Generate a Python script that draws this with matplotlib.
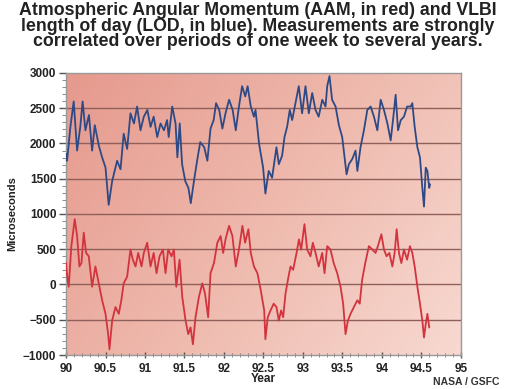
import numpy as np
import matplotlib.pyplot as plt
from matplotlib.colors import LinearSegmentedColormap
from matplotlib.ticker import MultipleLocator

# LOD (blue), year vs microseconds
lod_year = [90.0, 90.013, 90.055, 90.097, 90.14, 90.18, 90.21, 90.245, 90.29, 90.33,
            90.364, 90.415, 90.457, 90.50, 90.54, 90.584, 90.647, 90.69, 90.73, 90.774,
            90.816, 90.86, 90.90, 90.943, 90.985, 91.03, 91.07, 91.11, 91.155, 91.197,
            91.24, 91.28, 91.30, 91.345, 91.387, 91.41, 91.44, 91.47, 91.51, 91.55,
            91.58, 91.62, 91.66, 91.70, 91.75, 91.79, 91.83, 91.87, 91.90, 91.94,
            91.98, 92.02, 92.065, 92.11, 92.15, 92.19, 92.23, 92.27, 92.30, 92.34,
            92.38, 92.40, 92.445, 92.496, 92.525, 92.567, 92.61, 92.665, 92.695, 92.737,
            92.767, 92.80, 92.834, 92.864, 92.906, 92.948, 92.99, 93.033, 93.075, 93.118,
            93.16, 93.20, 93.245, 93.287, 93.308, 93.337, 93.37, 93.414, 93.456, 93.498,
            93.528, 93.553, 93.583, 93.625, 93.667, 93.69, 93.73, 93.773, 93.816, 93.858,
            93.90, 93.943, 93.985, 94.027, 94.07, 94.112, 94.146, 94.175, 94.205, 94.24,
            94.28, 94.32, 94.365, 94.386, 94.416, 94.45, 94.483, 94.513, 94.534, 94.556,
            94.577, 94.60, 94.61]
lod_us = [1851, 1755, 2235, 2596, 1899, 2235, 2596, 2187, 2404, 1899,
          2260, 1971, 1803, 1658, 1129, 1466, 1755, 1634, 2139, 1923,
          2428, 2284, 2524, 2187, 2380, 2476, 2235, 2380, 2091, 2284,
          2187, 2332, 2091, 2524, 2284, 1803, 2284, 1706, 1466, 1370,
          1153, 1466, 1755, 2019, 1947, 1755, 2211, 2332, 2572, 2476,
          2211, 2428, 2620, 2476, 2187, 2524, 2813, 2668, 2813, 2524,
          2380, 2476, 1995, 1658, 1290, 1610, 1514, 1947, 1706, 1827,
          2091, 2235, 2476, 2332, 2572, 2813, 2428, 2813, 2428, 2716,
          2476, 2380, 2620, 2524, 2813, 2957, 2620, 2524, 2260, 2091,
          1803, 1562, 1706, 1779, 1899, 1610, 1947, 2187, 2476, 2524,
          2380, 2187, 2620, 2476, 2284, 2043, 2380, 2692, 2187, 2332,
          2380, 2524, 2524, 2572, 2235, 1947, 1803, 1370, 1105, 1658,
          1610, 1370, 1418]

# AAM (red)
aam_year = [90.0, 90.01, 90.034, 90.067, 90.11, 90.14, 90.169, 90.195, 90.224, 90.254,
            90.288, 90.33, 90.372, 90.415, 90.457, 90.50, 90.533, 90.55, 90.584, 90.626,
            90.668, 90.70, 90.73, 90.774, 90.816, 90.846, 90.88, 90.914, 90.956, 90.985,
            91.028, 91.07, 91.11, 91.146, 91.184, 91.227, 91.26, 91.294, 91.336, 91.366,
            91.396, 91.438, 91.472, 91.514, 91.548, 91.577, 91.607, 91.64, 91.683, 91.726,
            91.76, 91.80, 91.83, 91.874, 91.916, 91.958, 91.99, 92.02, 92.065, 92.107,
            92.15, 92.19, 92.234, 92.268, 92.31, 92.34, 92.38, 92.424, 92.466, 92.51,
            92.525, 92.555, 92.59, 92.63, 92.665, 92.695, 92.724, 92.75, 92.78, 92.81,
            92.843, 92.876, 92.92, 92.95, 92.978, 93.02, 93.054, 93.096, 93.126, 93.16,
            93.20, 93.245, 93.274, 93.308, 93.35, 93.39, 93.435, 93.477, 93.51, 93.54,
            93.57, 93.604, 93.646, 93.69, 93.72, 93.75, 93.79, 93.836, 93.88, 93.92,
            93.95, 93.994, 94.027, 94.06, 94.095, 94.133, 94.162, 94.188, 94.217, 94.247,
            94.28, 94.32, 94.356, 94.386, 94.416, 94.45, 94.483, 94.513, 94.534, 94.556,
            94.577, 94.60]
aam_us = [304, 160, -32, 544, 928, 688, 256, 304, 736, 448,
          400, -32, 256, 16, -224, -416, -704, -920, -512, -320,
          -416, -224, 16, 112, 496, 352, 256, 448, 256, 448,
          592, 256, 448, 160, 400, 496, 160, 496, 400, 496,
          -32, 352, -176, -512, -704, -608, -848, -464, -176, 16,
          -128, -464, 160, 304, 592, 688, 448, 640, 832, 688,
          256, 496, 832, 592, 784, 448, 256, 160, -80, -368,
          -776, -464, -368, -272, -320, -512, -368, -464, -128, 64,
          256, 208, 448, 640, 496, 856, 496, 400, 592, 448,
          256, 448, 160, 544, 496, 304, 160, -32, -272, -704,
          -512, -416, -320, -224, -272, 64, 304, 544, 496, 448,
          544, 712, 496, 400, 448, 256, 448, 784, 448, 304,
          496, 352, 544, 448, 256, -32, -272, -512, -752, -560,
          -416, -608]

title = ("Atmospheric Angular Momentum (AAM, in red) and VLBI\n"
         "length of day (LOD, in blue). Measurements are strongly\n"
         "correlated over periods of one week to several years.")
xticks = [90, 90.5, 91, 91.5, 92, 92.5, 93, 93.5, 94, 94.5, 95]
xlabels = ['90', '90.5', '91', '91.5', '92', '92.5', '93', '93.5', '94', '94.5', '95']

plt.rcParams['font.family'] = ['Liberation Sans', 'DejaVu Sans']

fig = plt.figure(figsize=(5.16, 3.89), dpi=100)
ax = fig.add_axes([0.128, 0.0874, 0.765, 0.725])

# pinkish background, darker towards the upper left
u = np.linspace(0, 1, 200)
v = np.linspace(1, 0, 200)
U, V = np.meshgrid(u, v)
shade = np.clip(0.65 * U + 0.35 * (1 - V), 0, 1)
cmap = LinearSegmentedColormap.from_list('bg', ['#e6998d', '#efb9ad', '#f7d9d1'])
ax.imshow(shade, cmap=cmap, extent=[90, 95, -1000, 3000], aspect='auto',
          origin='upper', zorder=0, interpolation='bilinear')

for y in range(-500, 3000, 500):
    ax.axhline(y, color='#8f5f5a', lw=1.0, zorder=1)

ax.plot(lod_year, lod_us, color='#2e4a86', lw=1.3, zorder=3)
ax.plot(aam_year, aam_us, color='#d2343f', lw=1.3, zorder=3)

ax.set_xlim(90, 95)
ax.set_ylim(-1000, 3000)
ax.set_xticks(xticks)
ax.set_xticklabels(xlabels)
ax.xaxis.set_minor_locator(MultipleLocator(0.1))
ax.yaxis.set_major_locator(MultipleLocator(500))
ax.yaxis.set_minor_locator(MultipleLocator(100))
ax.tick_params(axis='both', which='major', labelsize=8.5, colors='#555555',
               labelcolor='#222222', width=1)
ax.tick_params(axis='y', which='major', length=5, direction='out', pad=2)
ax.tick_params(axis='y', which='minor', length=3, direction='out', color='#777777')
ax.tick_params(axis='x', which='major', length=5, direction='inout', pad=3)
ax.tick_params(axis='x', which='minor', length=3, direction='inout', color='#777777')
for lab in ax.get_xticklabels() + ax.get_yticklabels():
    lab.set_fontweight('bold')

for s in ax.spines.values():
    s.set_color('#999999')
    s.set_linewidth(1)

ax.set_ylabel('Microseconds', fontsize=8, fontweight='bold', color='#222222', labelpad=4)
ax.set_xlabel('Year', fontsize=8.5, fontweight='bold', color='#222222', labelpad=-1)

fig.text(0.5, 0.995, title, ha='center', va='top', fontsize=12.8, fontweight='bold',
         color='#222222', linespacing=0.9)
fig.text(0.84, 0.005, 'NASA / GSFC', fontsize=7.5, fontweight='bold', color='#333333',
         ha='left', va='bottom')

fig.savefig('out.png', dpi=100)
